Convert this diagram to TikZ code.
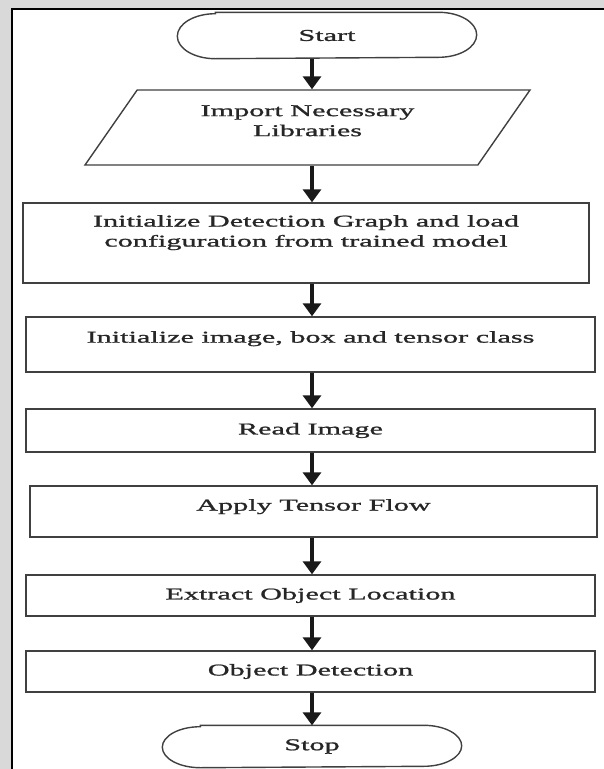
\documentclass[tikz,border=0pt]{standalone}
\usepackage{fontspec}
\setmainfont{Liberation Serif}[FakeStretch=1.83,FakeBold=1.2]
\usetikzlibrary{arrows.meta,shapes.geometric}
\begin{document}
\begin{tikzpicture}[x=1pt,y=-1pt,
    box/.style={draw=black!75,line width=1.4pt,inner sep=0pt,align=center,
        font=\fontsize{16.5}{20}\selectfont,text=black!85},
    term/.style={box,draw=none,minimum width=298,minimum height=#1},
    arr/.style={line width=3.2pt,black!90,-{Triangle[width=18pt,length=13pt]}}]
    \useasboundingbox (0,0) rectangle (604,769);
    \fill[black!15] (0,0) rectangle (604,769);
    \fill[white] (12,9) rectangle (604,769);
    \draw[line width=1.5pt] (12,769) -- (12,9) -- (604,9);
    \coordinate (axis) at (312,0);
    \node[term=45] (start) at (327,35.5) {Start};
    \node[box,trapezium,trapezium stretches body,trapezium left angle=40.4,
        trapezium right angle=139.6,minimum width=445,minimum height=75,text depth=13.6]
        (imp) at (307.5,127.5) {Import Necessary\\Libraries};
    \node[box,minimum width=566,minimum height=80,text depth=24.3] (graph) at (306,243)
        {Initialize Detection Graph and load\\configuration from trained model};
    \node[box,minimum width=569,minimum height=55,text depth=15.2] (init) at (310.5,344.5)
        {Initialize image, box and tensor class};
    \node[box,minimum width=569,minimum height=43] (read) at (310.5,430.5) {Read Image};
    \node[box,minimum width=567,minimum height=51,text depth=13.3] (tf) at (313.5,511.5)
        {Apply Tensor Flow};
    \node[box,minimum width=569,minimum height=41] (loc) at (310.5,595.5) {Extract Object Location};
    \node[box,minimum width=569,minimum height=41] (det) at (310.5,671.5) {Object Detection};
    \node[term=41] (stop) at (312,746.5) {Stop};
    % terminals with flat elliptic ends
    \foreach \t/\r in {start/22.5,stop/20.5}
        \draw[draw=black!75,line width=1.4pt] ([xshift=38]\t.north west) -- ([xshift=-38]\t.north east)
            arc[start angle=-90,end angle=90,x radius=38,y radius=\r]
            -- ([xshift=38]\t.south west)
            arc[start angle=90,end angle=270,x radius=38,y radius=\r] -- cycle;
    \draw[arr] (start.south -| axis) -- (imp.north -| axis);
    \draw[arr] (imp.south -| axis) -- (graph.north -| axis);
    \draw[arr] (graph.south -| axis) -- (init.north -| axis);
    \draw[arr] (init.south -| axis) -- (read.north -| axis);
    \draw[arr] (read.south -| axis) -- (tf.north -| axis);
    \draw[arr] (tf.south -| axis) -- (loc.north -| axis);
    \draw[arr] (loc.south -| axis) -- (det.north -| axis);
    \draw[arr] (det.south -| axis) -- (stop.north -| axis);
\end{tikzpicture}
\end{document}
